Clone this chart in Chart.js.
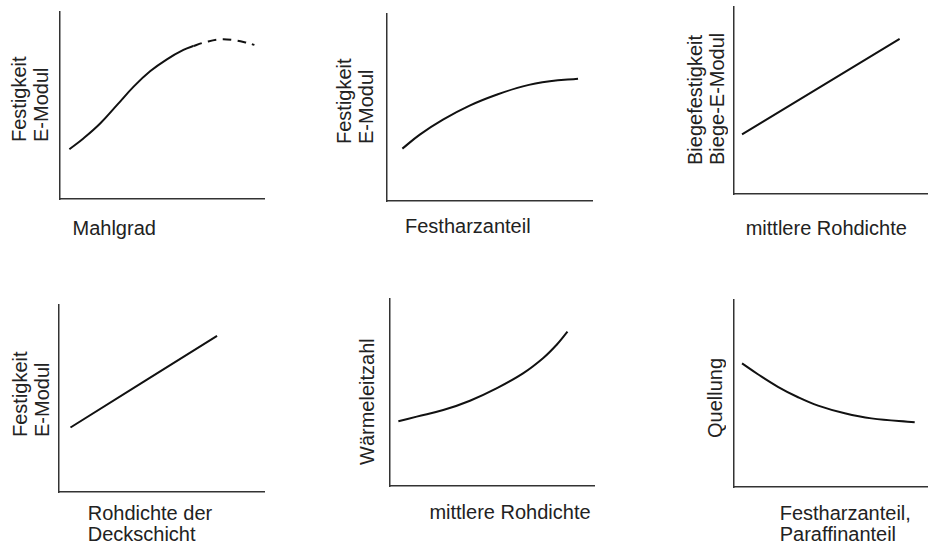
<!DOCTYPE html>
<html>
<head>
<meta charset="utf-8">
<script src="https://cdn.jsdelivr.net/npm/chart.js@4"></script>
<style>
  html, body { margin: 0; padding: 0; width: 928px; height: 545px; overflow: hidden; background: #fff; }
  .panel { position: absolute; }
  .lbl {
    position: absolute;
    font-family: "Liberation Sans", Arial, sans-serif;
    font-size: 20px;
    line-height: 22px;
    color: #222;
    white-space: nowrap;
  }
  .vlbl { writing-mode: vertical-rl; transform: rotate(180deg); text-align: start; }
</style>
</head>
<body>
<script>
// Qualitative trends (relative units 0..100 on both axes)

// Festigkeit / E-Modul vs. Mahlgrad (dashed beyond the optimum)
const mahlgradX        = [4.6, 11.6, 19.8, 28.0, 36.1, 44.3, 52.4, 60.5, 65.4, 72.0, 78.5, 85.0, 91.5, 95.3];
const festigkeitMahl   = [26.6, 32.5, 40.5, 50.3, 60.1, 68.4, 74.7, 79.7, 81.8, 84.1, 85.4, 85.0, 83.6, 82.4];
const mahlDashedFrom   = 8;

// Festigkeit / E-Modul vs. Festharzanteil
const harzX            = [7.5, 16.0, 27.3, 40.3, 53.4, 66.3, 79.4, 93.2];
const festigkeitHarz   = [28.0, 35.5, 43.5, 51.0, 56.8, 61.3, 64.0, 65.4];

// Biegefestigkeit / Biege-E-Modul vs. mittlere Rohdichte
const rohdichteX       = [4.1, 84.5];
const biegefestigkeit  = [31.9, 82.9];

// Festigkeit / E-Modul vs. Rohdichte der Deckschicht
const deckschichtX     = [5.6, 77.1];
const festigkeitDeck   = [34.5, 83.5];

// Wärmeleitzahl vs. mittlere Rohdichte
const waermeX          = [4.1, 13.1, 26.1, 39.2, 52.2, 65.2, 75.0, 81.6, 87.0];
const waermeleitzahl   = [34.6, 37.1, 40.6, 45.6, 52.2, 60.2, 68.3, 75.4, 82.5];

// Quellung vs. Festharzanteil, Paraffinanteil
const anteilX          = [4.1, 12.2, 22.4, 32.7, 42.9, 56.5, 70.1, 92.2];
const quellung         = [66.1, 60.3, 53.6, 48.0, 43.5, 39.4, 36.7, 34.6];

const PAD = 6;

const panels = [
  { area: [60, 12, 264, 199], x: mahlgradX, y: festigkeitMahl, dashedFrom: mahlDashedFrom,
    yTitle: ['Festigkeit', 'E-Modul'], yLeft: 8, yBottom: 142,
    xTitle: ['Mahlgrad'], xLeft: 72.5, xTop: 217, xLine: 22 },
  { area: [387, 14, 592, 201], x: harzX, y: festigkeitHarz,
    yTitle: ['Festigkeit', 'E-Modul'], yLeft: 333, yBottom: 144,
    xTitle: ['Festharzanteil'], xLeft: 405, xTop: 214.5, xLine: 22 },
  { area: [734, 7, 930, 194], x: rohdichteX, y: biegefestigkeit,
    yTitle: ['Biegefestigkeit', 'Biege-E-Modul'], yLeft: 683.5, yBottom: 164.5,
    xTitle: ['mittlere Rohdichte'], xLeft: 745.7, xTop: 216.5, xLine: 22 },
  { area: [59, 305, 264, 492], x: deckschichtX, y: festigkeitDeck,
    yTitle: ['Festigkeit', 'E-Modul'], yLeft: 9, yBottom: 437,
    xTitle: ['Rohdichte der', 'Deckschicht'], xLeft: 87.7, xTop: 503, xLine: 21 },
  { area: [390, 299, 594, 486], x: waermeX, y: waermeleitzahl,
    yTitle: ['Wärmeleitzahl'], yLeft: 355.7, yBottom: 465,
    xTitle: ['mittlere Rohdichte'], xLeft: 429.4, xTop: 500.5, xLine: 22 },
  { area: [734, 300, 930, 487], x: anteilX, y: quellung,
    yTitle: ['Quellung'], yLeft: 703.7, yBottom: 437.5,
    xTitle: ['Festharzanteil,', 'Paraffinanteil'], xLeft: 779.7, xTop: 503, xLine: 21 }
];

function axisOpts() {
  return {
    type: 'linear', min: 0, max: 100,
    ticks: { display: false },
    grid: { display: false, drawTicks: false, tickLength: 0 },
    border: { display: true, color: '#333', width: 1.5 }
  };
}

panels.forEach(p => {
  const [L, T, R, B] = p.area;
  const wrap = document.createElement('div');
  wrap.className = 'panel';
  wrap.style.left = (L - PAD) + 'px';
  wrap.style.top = (T - PAD) + 'px';
  wrap.style.width = (R - L + 2 * PAD) + 'px';
  wrap.style.height = (B - T + 2 * PAD) + 'px';
  const canvas = document.createElement('canvas');
  wrap.appendChild(canvas);
  document.body.appendChild(wrap);

  const pts = p.x.map((xv, i) => ({ x: xv, y: p.y[i] }));
  const ds = {
    data: pts,
    borderColor: '#111',
    borderWidth: 2,
    pointRadius: 0,
    fill: false,
    tension: 0.4
  };
  if (p.dashedFrom !== undefined) {
    ds.segment = { borderDash: ctx => ctx.p0DataIndex >= p.dashedFrom ? [9, 6] : undefined };
  }

  new Chart(canvas, {
    type: 'line',
    data: { datasets: [ds] },
    options: {
      responsive: true,
      maintainAspectRatio: false,
      animation: false,
      events: [],
      layout: { padding: PAD },
      plugins: { legend: { display: false }, tooltip: { enabled: false } },
      scales: { x: axisOpts(), y: axisOpts() }
    }
  });

  // rotated y-axis title (reads bottom to top, lines bottom-aligned)
  const yl = document.createElement('div');
  yl.className = 'lbl vlbl';
  yl.innerHTML = p.yTitle.join('<br>');
  yl.style.left = p.yLeft + 'px';
  yl.style.top = (p.yBottom - 170) + 'px';
  yl.style.height = '170px';
  document.body.appendChild(yl);

  // x-axis title
  const xl = document.createElement('div');
  xl.className = 'lbl';
  xl.style.lineHeight = p.xLine + 'px';
  xl.innerHTML = p.xTitle.join('<br>');
  xl.style.left = p.xLeft + 'px';
  xl.style.top = p.xTop + 'px';
  document.body.appendChild(xl);
});
</script>
</body>
</html>
